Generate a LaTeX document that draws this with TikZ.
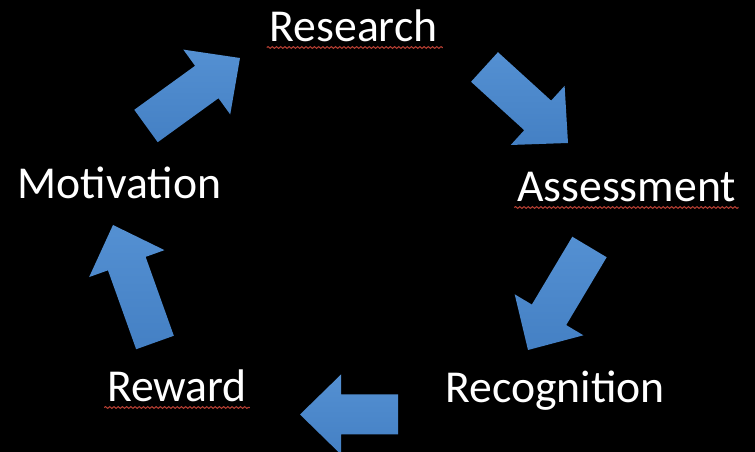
\documentclass[tikz,border=0pt]{standalone}
\usepackage{fontspec}
\setmainfont{Carlito}
\usetikzlibrary{calc,decorations.pathmorphing}

\definecolor{arrowtop}{RGB}{84,144,210}
\definecolor{arrowbot}{RGB}{68,128,196}
\definecolor{spellred}{RGB}{180,62,50}

\tikzset{
  label/.style={text=white, inner sep=0pt, anchor=base,
    font=\fontsize{26}{30}\selectfont},
  squiggle/.style={spellred, line width=0.6pt, decorate,
    decoration={snake, amplitude=0.5pt, segment length=2.4pt}},
  block/.style={top color=arrowtop, bottom color=arrowbot, draw=none}
}

% block arrow from tail #1 to tip #2
\newcommand{\blockarrow}[2]{%
  \coordinate (base) at ($(#2)!0.82cm!(#1)$);
  \shade[block]
    ($(#1)!0.4cm!90:(#2)$) -- ($(base)!0.4cm!90:(#2)$)
    -- ($(base)!0.8cm!90:(#2)$) -- (#2)
    -- ($(base)!0.8cm!-90:(#2)$) -- ($(base)!0.4cm!-90:(#2)$)
    -- ($(#1)!0.4cm!-90:(#2)$) -- cycle;
}

\begin{document}
\begin{tikzpicture}
  \fill[black] (0,0) rectangle (15.1,9.04);
  \useasboundingbox (0,0) rectangle (15.1,9.04);

  \path
    (7.07,8.2) node[label] (research){Research}
    (12.53,5.0) node[label] (assessment){Assessment}
    (11.1,0.98) node[label] (recognition){Recognition}
    (3.54,1.0) node[label] (reward){Reward}
    (2.39,5.06) node[label] (motivation){Motivation};

  % spell-check underlines
  \draw[squiggle] ($(research.base west)+(-0.05,-0.11)$) -- ($(research.base east)+(0.1,-0.11)$);
  \draw[squiggle] ($(assessment.base west)+(-0.05,-0.11)$) -- ($(assessment.base east)+(0.05,-0.11)$);
  \draw[squiggle] ($(reward.base west)+(-0.05,-0.11)$) -- ($(reward.base east)+(0.05,-0.11)$);

  \coordinate (mot2res-a) at (2.92,6.52);
  \coordinate (mot2res-b) at (4.8,7.88);
  \coordinate (res2ass-a) at (9.69,7.7);
  \coordinate (res2ass-b) at (11.36,6.18);
  \coordinate (ass2rec-a) at (11.79,4.1);
  \coordinate (ass2rec-b) at (10.56,2.04);
  \coordinate (rec2rew-a) at (7.96,0.75);
  \coordinate (rec2rew-b) at (6.0,0.75);
  \coordinate (rew2mot-a) at (3.1,2.19);
  \coordinate (rew2mot-b) at (2.26,4.54);

  \begin{scope}
    \blockarrow{mot2res-a}{mot2res-b}
    \blockarrow{res2ass-a}{res2ass-b}
    \blockarrow{ass2rec-a}{ass2rec-b}
    \blockarrow{rec2rew-a}{rec2rew-b}
    \blockarrow{rew2mot-a}{rew2mot-b}
  \end{scope}
\end{tikzpicture}
\end{document}
